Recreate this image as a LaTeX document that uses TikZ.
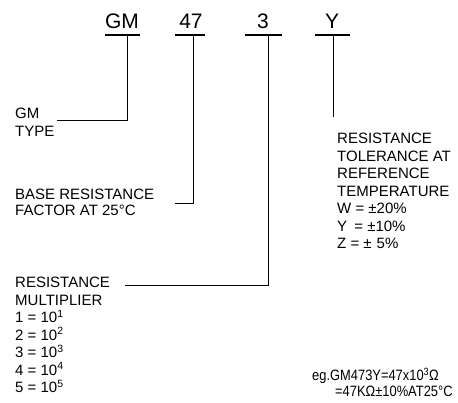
\documentclass[tikz,border=0pt]{standalone}
\usepackage{fontspec}
\setmainfont{Liberation Sans}
\newfontfamily\egfont[FakeStretch=0.86]{Liberation Sans}
\usepackage{tikz}
\usetikzlibrary{calc}

\begin{document}
\begin{tikzpicture}[x=1pt,y=-1pt,
  code/.style={font=\fontsize{21}{23}\selectfont,inner sep=0pt,anchor=base},
  note/.style={font=\fontsize{15}{17.5}\selectfont,align=left,inner sep=0pt,anchor=north west},
  bar/.style={line width=1.6pt},
  lead/.style={line width=0.9pt}]
  \useasboundingbox (0,0) rectangle (458,402);
  % code letters on top, bars underneath
  \node[code] (gm)  at (122,28) {GM};
  \node[code] (fac) at (191,28) {47};
  \node[code] (mul) at (263,28) {3};
  \node[code] (tol) at (332,28) {Y};
  \foreach \l/\r in {105/140,175/205,245/282,315/350}
    \draw[bar] (\l,35) -- (\r,35);
  % where the leads leave the bars
  \coordinate (gm-b)  at (127,35);
  \coordinate (fac-b) at (193,35);
  \coordinate (mul-b) at (268,35);
  \coordinate (tol-b) at (333,35);
  % texts
  \node[note,font=\fontsize{15}{18}\selectfont] (type) at (15,108) {GM\\TYPE};
  \node[note,font=\fontsize{15}{16}\selectfont] (base) at (15,189)
    {BASE RESISTANCE\\FACTOR AT 25°C};
  \node[note] (mult) at (15,277)
    {RESISTANCE\\MULTIPLIER\\1 = 10\textsuperscript{1}\\2 = 10\textsuperscript{2}\\
     3 = 10\textsuperscript{3}\\4 = 10\textsuperscript{4}\\5 = 10\textsuperscript{5}};
  \node[note] (tolr) at (337,133)
    {RESISTANCE\\TOLERANCE AT\\REFERENCE\\TEMPERATURE\\
     W = ±20\%\\Y\hspace{3pt} = ±10\%\\Z = ±\hspace{5pt}5\%};
  \node[note,font=\egfont\fontsize{15}{15.5}\selectfont] (eg) at (312,368)
    {eg.GM473Y=47x10\textsuperscript{3}Ω\\\hspace*{23pt}=47KΩ±10\%AT25°C};
  % lead ends
  \coordinate (type-in) at (57,120);
  \coordinate (base-in) at (175,203);
  \coordinate (mult-in) at (125,285);
  % leads
  \draw[lead] (gm-b) |- (type-in);
  \draw[lead] (fac-b) |- (base-in);
  \draw[lead] (mul-b) |- (mult-in);
  \draw[lead] (tol-b) -- (tol-b |- 0,117);
\end{tikzpicture}
\end{document}
